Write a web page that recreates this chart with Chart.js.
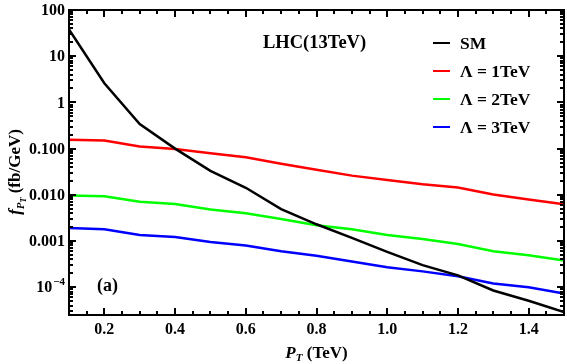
<!DOCTYPE html>
<html>
<head>
<meta charset="UTF-8">
<script src="https://cdn.jsdelivr.net/npm/chart.js"></script>
<title>f_PT vs PT</title>
<style>
  body { margin: 0; background: #fff; }
  #wrap { width: 567px; height: 364px; }
</style>
</head>
<body>
<div id="wrap"><canvas id="chart"></canvas></div>
<script>
// P_T points (TeV)
const ptValues = [0.1, 0.2, 0.3, 0.4, 0.5, 0.6, 0.7, 0.8, 0.9, 1.0, 1.1, 1.2, 1.3, 1.4, 1.5];

// f_PT (fb/GeV)
const smValues = [38, 2.6, 0.34, 0.10, 0.033, 0.0142, 0.0049, 0.0023, 0.00117, 0.00058, 0.00030, 0.00018, 0.000085, 0.000051, 0.000029];
const lambda1Values = [0.155, 0.15, 0.111, 0.098, 0.079, 0.065, 0.047, 0.035, 0.026, 0.021, 0.017, 0.0144, 0.0102, 0.0079, 0.0062];
const lambda2Values = [0.0097, 0.0093, 0.0071, 0.0063, 0.0048, 0.0040, 0.0030, 0.0022, 0.0018, 0.00135, 0.0011, 0.00086, 0.0006, 0.00049, 0.00038];
const lambda3Values = [0.0019, 0.0018, 0.00135, 0.00122, 0.00095, 0.0008, 0.0006, 0.00048, 0.00036, 0.00027, 0.00022, 0.000173, 0.00012, 0.0001, 0.000073];

const seriesLabels = ['SM', 'Λ = 1TeV', 'Λ = 2TeV', 'Λ = 3TeV'];
const seriesColors = ['#000000', '#ff0000', '#00ff00', '#0000ff'];

// axis ticks
const xTickValues = [0.2, 0.4, 0.6, 0.8, 1.0, 1.2, 1.4];
const xTickLabels = ['0.2', '0.4', '0.6', '0.8', '1.0', '1.2', '1.4'];
const yTickValues = [100, 10, 1, 0.1, 0.01, 0.001, 0.0001];
const yTickLabels = ['100', '10', '1', '0.100', '0.010', '0.001', '10^-4'];

const FONT = '"Liberation Serif", "Times New Roman", serif';

function toPoints(vals) {
    return ptValues.map((x, i) => ({ x: x, y: vals[i] }));
}

const allSeries = [smValues, lambda1Values, lambda2Values, lambda3Values];
const datasets = allSeries.map((vals, i) => ({
    label: seriesLabels[i],
    data: toPoints(vals),
    borderColor: seriesColors[i],
    borderWidth: 2.5,
    pointRadius: 0,
    tension: 0,
    fill: false
}));

// frame, inward ticks, y labels, titles, legend and notes
const decor = {
    id: 'decor',
    afterDraw(chart) {
        const ctx = chart.ctx;
        const a = chart.chartArea;
        const xs = chart.scales.x, ys = chart.scales.y;
        ctx.save();
        ctx.strokeStyle = '#000';
        ctx.lineWidth = 2;
        ctx.strokeRect(a.left, a.top, a.right - a.left, a.bottom - a.top);

        ctx.fillStyle = '#000';
        // x ticks every 0.05, long at labelled values
        for (let i = 1; i < 28; i++) {
            const v = 0.1 + i * 0.05;
            const px = Math.round(xs.getPixelForValue(v));
            const major = xTickValues.some(t => Math.abs(t - v) < 1e-6);
            const len = major ? 7 : 4;
            ctx.fillRect(px - 1, a.bottom - len, 2, len);
            ctx.fillRect(px - 1, a.top, 2, len);
        }
        // y ticks, decades long, 2..9 short
        for (let d = -5; d <= 2; d++) {
            for (let m = 1; m <= 9; m++) {
                const v = m * Math.pow(10, d);
                if (v < ys.min || v > ys.max) continue;
                const py = Math.round(ys.getPixelForValue(v));
                const len = m === 1 ? 7 : 4;
                ctx.fillRect(a.left, py - 1, len, 2);
                ctx.fillRect(a.right - len, py - 1, len, 2);
            }
        }

        // y tick labels
        ctx.textBaseline = 'middle';
        ctx.textAlign = 'right';
        const labX = a.left - 4;
        yTickValues.forEach((v, i) => {
            const py = ys.getPixelForValue(v);
            const lab = yTickLabels[i];
            if (lab.indexOf('^') >= 0) {
                const parts = lab.split('^');
                const exp = parts[1].replace('-', '\u2212');
                ctx.font = 'bold 11px ' + FONT;
                const expW = ctx.measureText(exp).width;
                ctx.fillText(exp, labX, py - 5);
                ctx.font = 'bold 16px ' + FONT;
                ctx.fillText(parts[0], labX - expW - 1, py + 1);
            } else {
                ctx.font = 'bold 16px ' + FONT;
                ctx.fillText(lab, labX, py + 1);
            }
        });

        // rich text helpers for sub-scripted titles
        ctx.textAlign = 'left';
        ctx.textBaseline = 'alphabetic';
        const drawRich = (parts, x0, y0) => {
            let x = x0;
            parts.forEach(p => {
                ctx.font = p.font;
                ctx.fillText(p.t, x, y0 + (p.dy || 0));
                x += ctx.measureText(p.t).width;
            });
        };
        const measureRich = parts => parts.reduce((w, p) => { ctx.font = p.font; return w + ctx.measureText(p.t).width; }, 0);

        // x title: P_T (TeV)
        const xTitle = [
            { t: 'P', font: 'italic bold 17px ' + FONT },
            { t: 'T', font: 'italic bold 11px ' + FONT, dy: 3 },
            { t: ' (TeV)', font: 'bold 17px ' + FONT }
        ];
        const xtw = measureRich(xTitle);
        drawRich(xTitle, (a.left + a.right) / 2 - xtw / 2, 358);

        // y title: f_{P_T} (fb/GeV)
        const yTitle = [
            { t: 'f', font: 'italic bold 17px ' + FONT },
            { t: 'P', font: 'italic bold 11px ' + FONT, dy: 4 },
            { t: 'T', font: 'italic bold 8px ' + FONT, dy: 6 },
            { t: ' (fb/GeV)', font: 'bold 17px ' + FONT }
        ];
        const ytw = measureRich(yTitle);
        ctx.save();
        ctx.translate(20, 172);
        ctx.rotate(-Math.PI / 2);
        drawRich(yTitle, -ytw / 2, 0);
        ctx.restore();

        // notes
        ctx.font = 'bold 18.5px ' + FONT;
        ctx.textBaseline = 'middle';
        ctx.fillText('LHC(13TeV)', 263, 43);
        ctx.font = 'bold 18px ' + FONT;
        ctx.fillText('(a)', 97, 286);

        // legend
        ctx.font = 'bold 17.5px ' + FONT;
        chart.data.datasets.forEach((ds, i) => {
            const ry = 43 + i * 28;
            ctx.strokeStyle = ds.borderColor;
            ctx.lineWidth = 2;
            ctx.beginPath();
            ctx.moveTo(433, ry); ctx.lineTo(450, ry);
            ctx.stroke();
            ctx.fillStyle = '#000';
            ctx.fillText(ds.label, 460, ry + 1);
        });
        ctx.restore();
    }
};

new Chart(document.getElementById('chart'), {
    type: 'line',
    data: { datasets: datasets },
    options: {
        responsive: true,
        maintainAspectRatio: false,
        animation: false,
        devicePixelRatio: 1,
        layout: { padding: { left: 0, right: 3, top: 10, bottom: 0 } },
        plugins: {
            legend: { display: false },
            tooltip: { enabled: false }
        },
        scales: {
            x: {
                type: 'linear',
                min: 0.1,
                max: 1.5,
                grid: { display: false, drawTicks: false },
                border: { display: false },
                afterBuildTicks: s => { s.ticks = xTickValues.map(v => ({ value: v })); },
                afterFit: s => { s.height = 49; },
                ticks: {
                    padding: 5,
                    color: '#000',
                    font: { family: FONT, size: 16, weight: 'bold' },
                    callback: (v) => {
                        const i = xTickValues.findIndex(t => Math.abs(t - v) < 1e-6);
                        return i >= 0 ? xTickLabels[i] : '';
                    }
                }
            },
            y: {
                type: 'logarithmic',
                min: 2.5e-5,
                max: 100,
                grid: { display: false, drawTicks: false },
                border: { display: false },
                afterBuildTicks: s => { s.ticks = yTickValues.map(v => ({ value: v })); },
                afterFit: s => { s.width = 69; },
                ticks: { display: false }
            }
        }
    },
    plugins: [decor]
});
</script>
</body>
</html>
